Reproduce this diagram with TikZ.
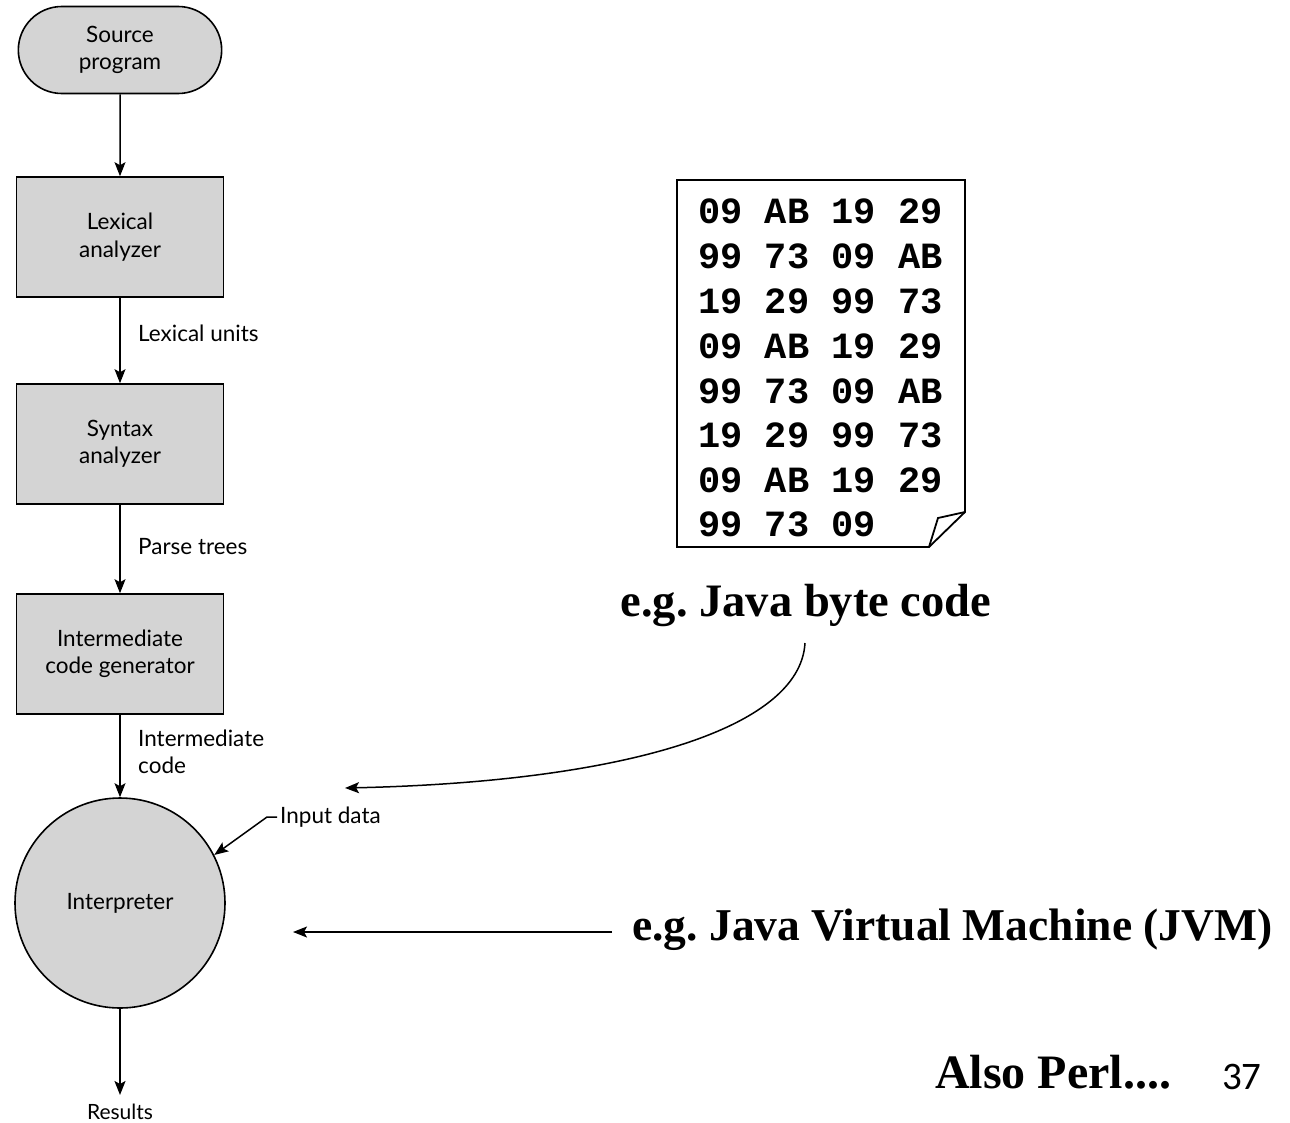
\documentclass[tikz,border=0pt]{standalone}
\usepackage{fontspec}
\setmainfont{Lato}
\newfontfamily\bigserif{Liberation Serif}
\newfontfamily\calib{Carlito}
\newfontfamily\codefont{Liberation Mono}
\usetikzlibrary{shapes.misc,arrows.meta}
\definecolor{boxgray}{HTML}{D4D4D4}
\frenchspacing
\tikzset{
  arr/.style={line width=1.5pt,-{Stealth[length=14pt,width=11pt,inset=3pt]}},
  stadium/.style={rounded rectangle,draw,line width=1.6pt,fill=boxgray,minimum width=210pt,minimum height=87pt,align=center,font=\fontsize{22.5}{27.5}\selectfont},
  procbox/.style={rectangle,draw,line width=1.6pt,fill=boxgray,minimum width=207pt,minimum height=120pt,align=center,font=\fontsize{22.5}{27.5}\selectfont},
  interpc/.style={circle,draw,line width=1.6pt,fill=boxgray,minimum size=210pt,font=\fontsize{22.5}{27.5}\selectfont},
  lbl/.style={anchor=west,align=left,inner sep=0pt,font=\fontsize{22.5}{27.5}\selectfont},
  big/.style={inner sep=0pt,font=\bigserif\bfseries\fontsize{46.5}{52}\selectfont},
  coderow/.style={anchor=west,inner sep=0pt,font=\codefont\bfseries\fontsize{37}{40}\selectfont},
  docline/.style={line width=1.8pt,line join=miter}
}
\begin{document}
\begin{tikzpicture}[x=1pt,y=-1pt]
\useasboundingbox[fill=white] (0,0) rectangle (1290,1122);
% flowchart
\node[stadium] (src) at (120,50) {Source\\program};
\node[procbox] (lex) at (120,237) {Lexical\\analyzer};
\node[procbox] (syn) at (120,444) {Syntax\\analyzer};
\node[procbox] (icg) at (120,654) {Intermediate\\code generator};
\node[interpc] (interp) at (120,903) {Interpreter};
\node[inner sep=0pt,font=\fontsize{21}{24}\selectfont] (res) at (120,1112) {Results};
\draw[arr] (src) -- (lex);
\draw[arr] (lex) -- (syn);
\draw[arr] (syn) -- (icg);
\draw[arr] (icg) -- (interp);
\draw[arr,shorten >=9pt] (interp) -- (res);
\node[lbl] (l1) at (138,333) {Lexical units};
\node[lbl] (l2) at (138,547) {Parse trees};
\node[lbl] (l3) at (138,752) {Intermediate\\code};
\node[lbl] (inp) at (280,817) {Input data};
\draw[arr] ([xshift=-3pt]inp.west) -- ++(-10,0) -- (interp.27);
% byte code document
\draw[docline] (677,180) -- (965,180) -- (965,512) -- (929,547) -- (677,547) -- cycle;
\draw[docline] (965,512) -- (938,518) -- (929,547);
\node[coderow] (r1) at (698,211) {09 AB 19 29};
\node[coderow] (r2) at (698,256) {99 73 09 AB};
\node[coderow] (r3) at (698,301) {19 29 99 73};
\node[coderow] (r4) at (698,346) {09 AB 19 29};
\node[coderow] (r5) at (698,391) {99 73 09 AB};
\node[coderow] (r6) at (698,435) {19 29 99 73};
\node[coderow] (r7) at (698,480) {09 AB 19 29};
\node[coderow] (r8) at (698,524) {99 73 09};
% annotations
\node[big] (bc) at (806,605) {e.g. Java byte code};
\coordinate (bcstart) at (805,643);
\coordinate (bctip) at (345,788);
\draw[arr] (bcstart) .. controls (800,730) and (620,782) .. (bctip);
\node[big,anchor=west,font=\bigserif\bfseries\fontsize{45.5}{52}\selectfont] (jvm) at (632,930) {e.g. Java Virtual Machine (JVM)};
\coordinate (jvmtip) at (293,932);
\draw[arr] ([xshift=-20pt]jvm.west |- jvmtip) -- (jvmtip);
\node[big,anchor=west,font=\bigserif\bfseries\fontsize{48}{52}\selectfont] (perl) at (935,1072) {Also Perl....};
\node[inner sep=0pt,font=\calib\fontsize{39}{40}\selectfont,anchor=west] (num) at (1222,1077) {37};
\end{tikzpicture}
\end{document}
